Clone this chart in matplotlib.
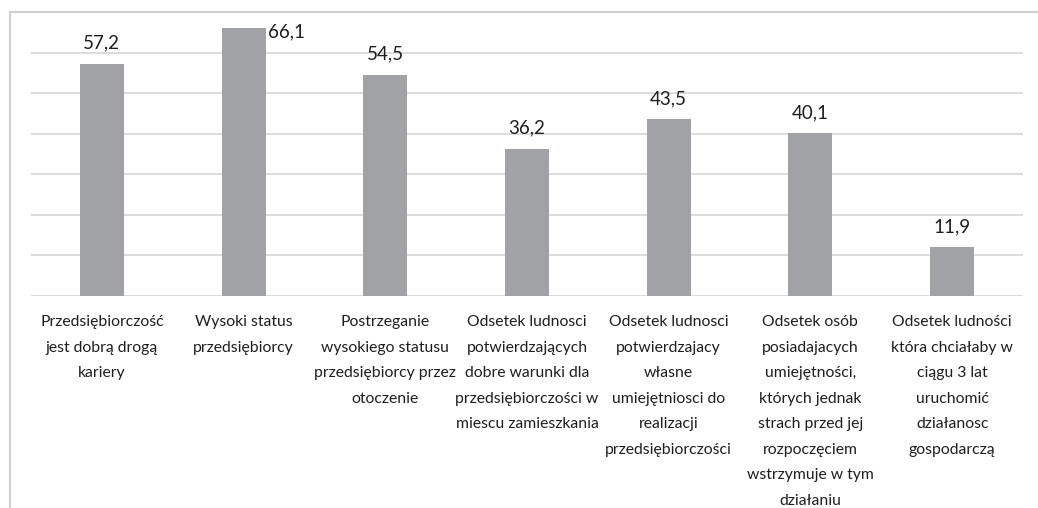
import matplotlib
matplotlib.use("Agg")
import matplotlib.pyplot as plt
from matplotlib.lines import Line2D

categories = [
    "Przedsiębiorczość\njest dobrą drogą\nkariery",
    "Wysoki status\nprzedsiębiorcy",
    "Postrzeganie\nwysokiego statusu\nprzedsiębiorcy przez\notoczenie",
    "Odsetek ludnosci\npotwierdzających\ndobre warunki dla\nprzedsiębiorczości w\nmiescu zamieszkania",
    "Odsetek ludnosci\npotwierdzajacy\nwłasne\numiejętniosci do\nrealizacji\nprzedsiębiorczości",
    "Odsetek osób\nposiadajacych\numiejętności,\nktórych jednak\nstrach przed jej\nrozpoczęciem\nwstrzymuje w tym\ndziałaniu",
    "Odsetek ludności\nktóra chciałaby w\nciągu 3 lat\nuruchomić\ndziałanosc\ngospodarczą",
]
values = [57.2, 66.1, 54.5, 36.2, 43.5, 40.1, 11.9]
value_labels = ["57,2", "66,1", "54,5", "36,2", "43,5", "40,1", "11,9"]

plt.rcParams['font.family'] = ['Lato', 'DejaVu Sans']

W, H = 1038, 508
fig = plt.figure(figsize=(W / 100, H / 100), dpi=100)
ax = fig.add_axes([31 / W, (H - 295.7) / H, (1023 - 31) / W, (295.7 - 12) / H])

bar_color = "#A0A2A5"
grid_color = "#D9D9D9"
text_color = "#1E1E1E"
width = 0.31

x = list(range(len(values)))
ax.bar(x, values, width=width, color=bar_color, zorder=3)

ax.set_xlim(-0.5, len(values) - 0.5)
ax.set_ylim(0, 70)
ax.set_yticks(range(0, 71, 10))
ax.yaxis.grid(True, color=grid_color, linewidth=1.3, zorder=0)
ax.tick_params(axis='y', left=False, labelleft=False)
for s in ax.spines.values():
    s.set_visible(False)

ax.set_xticks(x)
ax.set_xticklabels(categories, fontsize=11.3, color=text_color, linespacing=2.05, va='top')
ax.tick_params(axis='x', length=0, pad=14)

for i, (v, lab) in enumerate(zip(values, value_labels)):
    if v == max(values):
        ax.annotate(lab, xy=(i + width / 2, v), xytext=(2, -3), textcoords='offset points',
                    ha='left', va='center', fontsize=13.5, color=text_color)
    else:
        ax.annotate(lab, xy=(i, v), xytext=(0, 11), textcoords='offset points',
                    ha='center', va='baseline', fontsize=13.5, color=text_color)

frame_color = "#D0D0D0"
fig.add_artist(Line2D([10 / W, 1.0], [(H - 12) / H, (H - 12) / H], transform=fig.transFigure,
                      color=frame_color, linewidth=1.5))
fig.add_artist(Line2D([10 / W, 10 / W], [0, (H - 12) / H], transform=fig.transFigure,
                      color=frame_color, linewidth=1.5))

fig.savefig("out.png", dpi=100, facecolor="white")
